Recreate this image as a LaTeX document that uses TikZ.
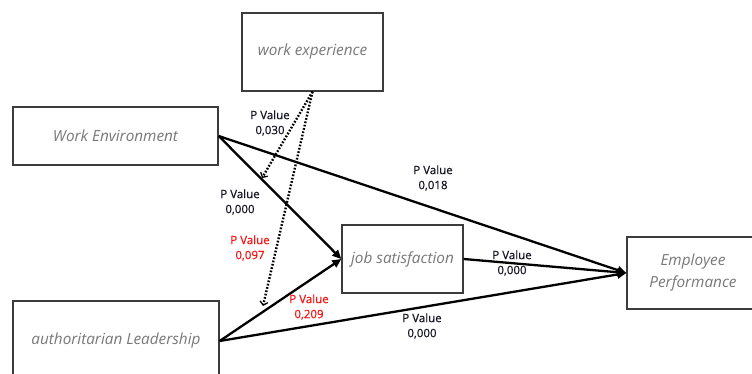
\documentclass[tikz,border=0pt]{standalone}
\usepackage{fontspec}
\setmainfont{Open Sans}
\newfontfamily\lblfont[BoldFont={Open Sans}, BoldFeatures={FakeBold=0.5}]{Open Sans}
\usetikzlibrary{arrows.meta}
\definecolor{boxtext}{RGB}{120,120,120}
\definecolor{boxline}{RGB}{60,60,60}
\definecolor{lbl}{RGB}{20,20,35}
\definecolor{lblred}{RGB}{245,20,20}
\tikzset{
  varbox/.style={draw=boxline, line width=1.3pt, fill=white, text=boxtext,
    font=\fontsize{15.3}{22}\selectfont\itshape, align=center, inner sep=0pt},
  path/.style={line width=2.3pt, draw=black},
  mainarrow/.style={path, -{Triangle[length=9pt,width=8pt]}},
  modarrow/.style={line width=2.4pt, dash pattern=on 1.7pt off 1.7pt,
    -{Straight Barb[length=3.5pt,width=8pt,line width=1.3pt]}},
  pval/.style={font=\lblfont\bfseries\fontsize{11.5}{15}\selectfont, text=lbl, align=center, inner sep=0pt},
  pvalred/.style={pval, text=lblred}
}
\begin{document}
\begin{tikzpicture}[x=1pt,y=-1pt]
\useasboundingbox (0,0) rectangle (752,374);
\clip (0,0) rectangle (752,374);
\fill[white] (0,0) rectangle (752,374);
% boxes
\node[varbox, minimum width=141pt, minimum height=78pt] (WX) at (312.5,52) {work experience};
\node[varbox, minimum width=205pt, minimum height=58pt] (WE) at (115.5,136) {Work Environment};
\node[varbox, minimum width=121pt, minimum height=68pt] (JS) at (402.5,259) {job satisfaction};
\node[varbox, minimum width=206pt, minimum height=80pt] (AL) at (116,341) {authoritarian Leadership};
\node[varbox, minimum width=132pt, minimum height=72pt] (EP) at (693,273) {Employee\\Performance};
% moderation targets
\coordinate (m1) at (262,178);
\coordinate (m2) at (263,306);
% main paths
\draw[mainarrow] (WE.east) -- (EP.west);
\draw[mainarrow] (WE.east) -- (JS.west);
\draw[mainarrow] (AL.east) -- (JS.west);
\draw[mainarrow] (AL.east) -- (EP.west);
\draw[mainarrow] (JS.east) -- (EP.west);
% moderation paths
\draw[modarrow] (WX.south) -- (m1);
\draw[modarrow] (WX.south) -- (m2);
% labels
\node[pval] (p1) at (270,123) {P Value\\0,030};
\node[pval] (p2) at (240,202) {P Value\\0,000};
\node[pvalred] (p3) at (250,248) {P Value\\0,097};
\node[pvalred] (p4) at (309,307) {P Value\\0,209};
\node[pval] (p5) at (422,326) {P Value\\0,000};
\node[pval] (p6) at (433,178) {P Value\\0,018};
\node[pval] (p7) at (512,263) {P Value\\0,000};
\end{tikzpicture}
\end{document}
